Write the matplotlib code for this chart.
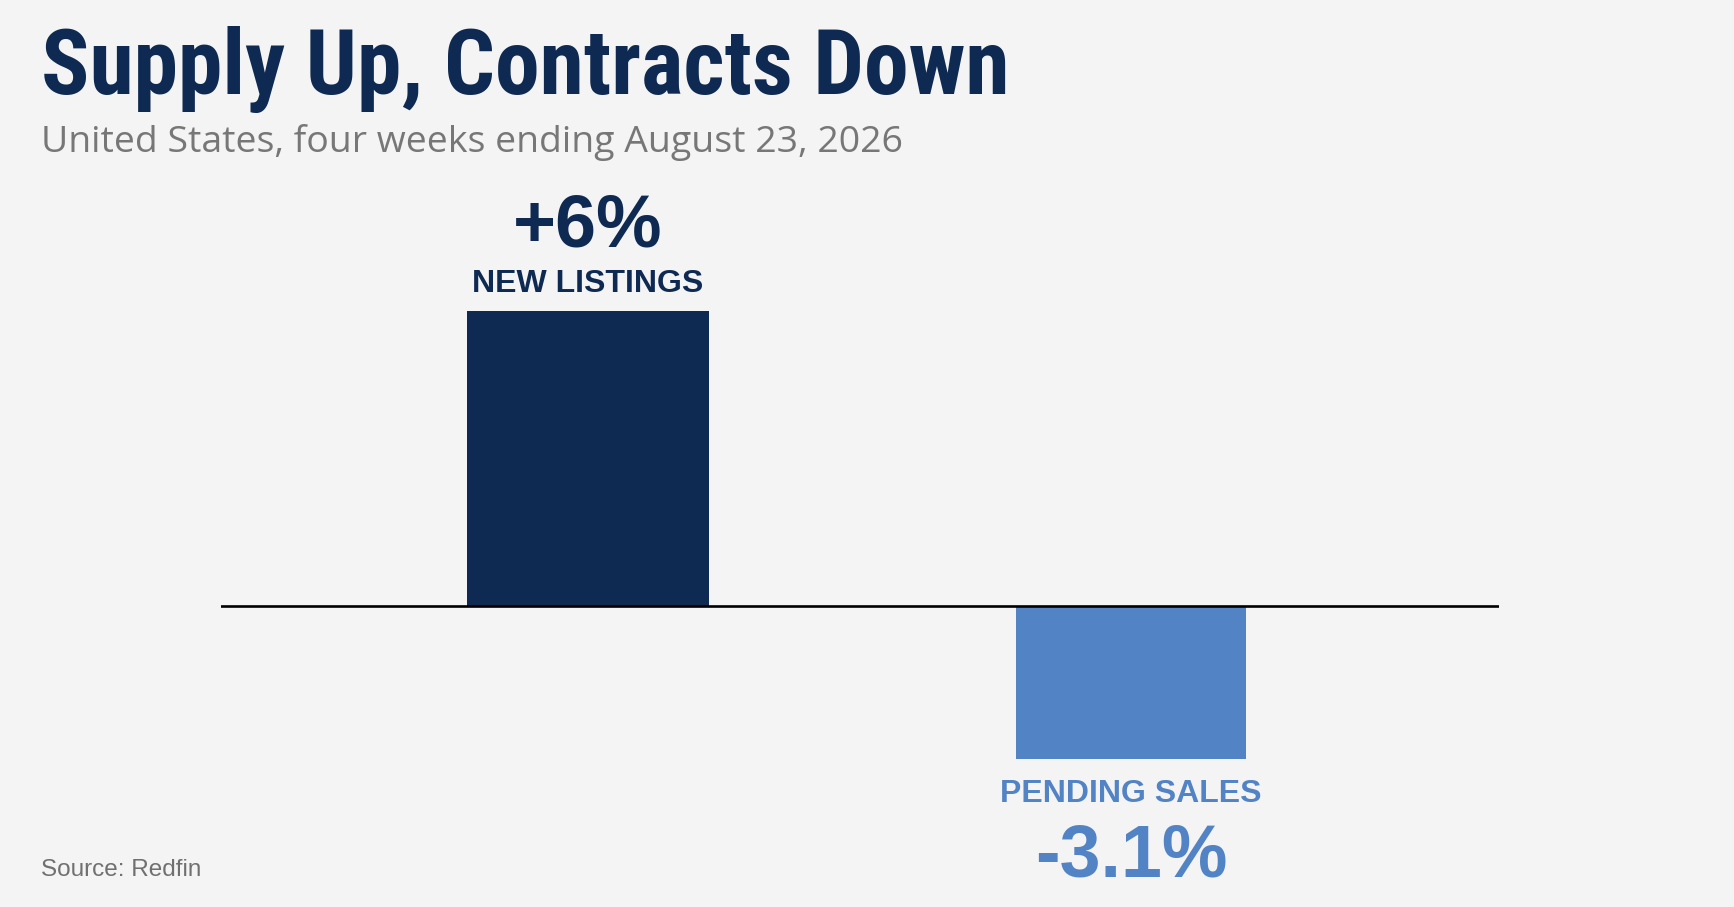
import matplotlib
matplotlib.use("Agg")
import matplotlib.pyplot as plt
from matplotlib import font_manager as fm

# ---- data ----
categories = ["NEW LISTINGS", "PENDING SALES"]
values = [6.0, -3.1]
value_labels = ["+6%", "-3.1%"]
title = "Supply Up, Contracts Down"
subtitle = "United States, four weeks ending August 23, 2026"
source = "Source: Redfin"

# ---- style ----
W, H = 1734, 907
BG = "#f4f4f4"
NAVY = "#0f2a52"
BLUE = "#5283c4"
GRAY = "#777777"
bar_colors = [NAVY, BLUE]


def pick(cands, **kw):
    for c in cands:
        try:
            fm.findfont(fm.FontProperties(family=c, **kw), fallback_to_default=False)
            return c
        except Exception:
            continue
    return "Liberation Sans"


title_font = pick(["Roboto Condensed", "Liberation Sans Narrow", "Roboto"], weight="bold")

fig = plt.figure(figsize=(W / 100, H / 100), dpi=100, facecolor=BG)

def fx(px):
    return px / W

def fy(py):
    return 1 - py / H

# axes placement (pixels): x 221..1499, zero line at y=606
ymin, ymax = -6.0, 8.0
ppu = 49.2  # pixels per unit
zero_px = 606
ax_top_px = zero_px - ymax * ppu
ax_h_px = (ymax - ymin) * ppu
ax = fig.add_axes([fx(221), 1 - (ax_top_px + ax_h_px) / H, (1499 - 221) / W, ax_h_px / H])
ax.set_facecolor("none")
ax.set_ylim(ymin, ymax)
ax.set_xlim(-0.676, 1.678)
for s in ax.spines.values():
    s.set_visible(False)
ax.set_xticks([])
ax.set_yticks([])

xs = list(range(len(categories)))
bars = ax.bar(xs, values, width=[0.446, 0.424], color=bar_colors, zorder=2)
ax.axhline(0, color="black", lw=1.9, zorder=3)

label_font = "Liberation Sans"
for x, v, cat, vl, c in zip(xs, values, categories, value_labels, bar_colors):
    if v >= 0:
        ax.annotate(cat, (x, v), xytext=(0, 19 * 0.72), textcoords="offset points",
                    ha="center", va="baseline", fontsize=23, fontweight="bold",
                    color=c, family=label_font)
        ax.annotate(vl, (x, v), xytext=(0, 64 * 0.72), textcoords="offset points",
                    ha="center", va="baseline", fontsize=53, fontweight="bold",
                    color=c, family=label_font)
    else:
        ax.annotate(cat, (x, v), xytext=(0, -20 * 0.72), textcoords="offset points",
                    ha="center", va="top", fontsize=23, fontweight="bold",
                    color=c, family=label_font)
        ax.annotate(vl, (x, v), xytext=(0, -64 * 0.72), textcoords="offset points",
                    ha="center", va="top", fontsize=53, fontweight="bold",
                    color=c, family=label_font)

t = fig.text(fx(41), fy(94), title, ha="left", va="baseline", fontsize=61,
             fontweight="bold", color=NAVY, family=title_font)
# keep the title's width close to the reference (about 968 px)
fig.canvas.draw()
wpx = t.get_window_extent().width
t.set_fontsize(min(65.0, max(55.0, 61 * 968 / wpx)))

fig.text(fx(41), fy(152), subtitle, ha="left", va="baseline", fontsize=26.9,
         color=GRAY, family="Open Sans")
fig.text(fx(41), fy(876), source, ha="left", va="baseline", fontsize=17.5,
         color="#707070", family="Liberation Sans")

fig.savefig("out.png", dpi=100, facecolor=BG)
